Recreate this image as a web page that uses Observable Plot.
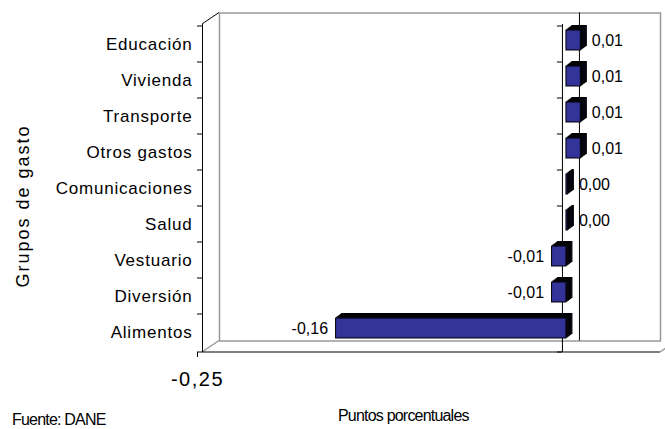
<!DOCTYPE html>
<html><head><meta charset="utf-8">
<script src="https://cdn.jsdelivr.net/npm/d3@7"></script>
<script src="https://cdn.jsdelivr.net/npm/@observablehq/plot@0.6"></script>
<style>
body{margin:0;background:#fff;font-family:"Liberation Sans",Arial,sans-serif;}
#wrap{position:relative;width:665px;height:429px;overflow:hidden;background:#fff;}
.lbl{position:absolute;color:#000;white-space:nowrap;line-height:1;}
#ytitle{left:23px;top:206px;font-size:18px;letter-spacing:2px;transform:translate(-50%,-50%) rotate(-90deg);}
#src{left:12px;top:412px;font-size:16px;letter-spacing:-0.8px;}
#xtitle{left:338px;top:408px;font-size:16px;letter-spacing:-0.8px;}
#chart [aria-label="y-axis tick label"] text{letter-spacing:0.8px;}
#chart [aria-label="x-axis tick label"] text{letter-spacing:1.5px;}
</style></head><body>
<div id="wrap"><div id="chart"></div>
<div class="lbl" id="ytitle">Grupos de gasto</div>
<div class="lbl" id="src">Fuente: DANE</div>
<div class="lbl" id="xtitle">Puntos porcentuales</div>
</div>
<script>
const categories = ["Educación","Vivienda","Transporte","Otros gastos","Comunicaciones","Salud","Vestuario","Diversión","Alimentos"];
const values = [0.010, 0.010, 0.010, 0.010, 0.001, 0.001, -0.010, -0.010, -0.160];
const valueLabels = ["0,01","0,01","0,01","0,01","0,00","0,00","-0,01","-0,01","-0,16"];
const xTicks = [-0.25];
const xTickLabels = ["-0,25"];

const data = categories.map((c, i) => ({category: c, value: values[i], label: valueLabels[i]}));

const DX = 17, DY = -11.5;

function wall3d(...args) {
  let scales, dims;
  if (args.length >= 4) { scales = args[1]; dims = args[3]; } else { scales = args[0]; dims = args[1]; }
  const {width, height, marginTop, marginRight, marginBottom, marginLeft} = dims;
  const x0 = marginLeft, x1 = width - marginRight, y0 = marginTop, y1 = height - marginBottom;
  const g = d3.create("svg:g");
  const line = (a, b, c, d, stroke, w) => g.append("line")
    .attr("x1", a).attr("y1", b).attr("x2", c).attr("y2", d)
    .attr("stroke", stroke).attr("stroke-width", w);
  line(x0, y0, x0 + DX, y0 + DY, "#000", 1);
  line(x0, y1, x0 + DX, y1 + DY, "#999", 1.5);
  line(x0, y1, x1 + DX, y1, "#000", 1.2);
  line(x1 + DX, y1, x1 + DX + 6, y1 - 4, "#999", 1.5);
  const y = scales && scales.y;
  let bounds;
  if (y) {
    bounds = categories.map(c => y(c));
    bounds.push(y1);
  } else {
    const step = (y1 - y0) / categories.length;
    bounds = d3.range(categories.length + 1).map(i => y0 + i * step);
  }
  const xz = scales && scales.x ? scales.x(0) : x0;
  for (const b of bounds) {
    line(x0 - 5, b, x0, b, "#000", 1);
    line(xz - 5, b, xz, b, "#000", 1);
  }
  return g.node();
}

const depthLayers = [5, 4, 3, 2, 1].map(k => Plot.barX(data, {
  x: "value", y: "category", insetTop: 8, insetBottom: 8,
  dx: 4 + k * 1.2, dy: -4 - k * 0.9,
  fill: "#15153a", stroke: "#000", strokeWidth: 1
}));

const chart = Plot.plot({
  width: 665,
  height: 429,
  marginLeft: 202,
  marginRight: 22,
  marginTop: 24,
  marginBottom: 77,
  x: {domain: [-0.25, 0.0563]},
  y: {domain: categories, padding: 0},
  style: {fontFamily: '"Liberation Sans", Arial, sans-serif', color: "#000", background: "#fff", overflow: "visible"},
  marks: [
    Plot.frame({dx: DX, dy: DY, stroke: "#999", strokeWidth: 1.5}),
    wall3d,
    Plot.ruleX([0], {dx: DX, dy: DY, stroke: "#000", strokeWidth: 1}),
    Plot.ruleX([-0.25], {stroke: "#000", strokeWidth: 1}),
    Plot.ruleX([0], {stroke: "#000", strokeWidth: 1}),
    ...depthLayers,
    Plot.barX(data, {
      x: "value", y: "category", insetTop: 8, insetBottom: 8,
      dx: 4, dy: -4, fill: "#333399", stroke: "#000", strokeWidth: 1
    }),
    Plot.axisY({tickSize: 0, tickPadding: 10, fontSize: 17, label: null}),
    Plot.axisX({
      ticks: xTicks,
      tickFormat: d => xTickLabels[xTicks.indexOf(d)],
      tickSize: 5, tickPadding: 14, fontSize: 20, dx: -5, label: null
    }),
    Plot.text(data.filter(d => d.value >= 0), {
      x: "value", y: "category", text: "label",
      textAnchor: "start", dx: 15, dy: -4, fontSize: 16, fill: "#000"
    }),
    Plot.text(data.filter(d => d.value < 0), {
      x: "value", y: "category", text: "label",
      textAnchor: "end", dx: -4, dy: -4, fontSize: 16, fill: "#000"
    })
  ]
});
document.getElementById("chart").appendChild(chart);
</script>
</body></html>
